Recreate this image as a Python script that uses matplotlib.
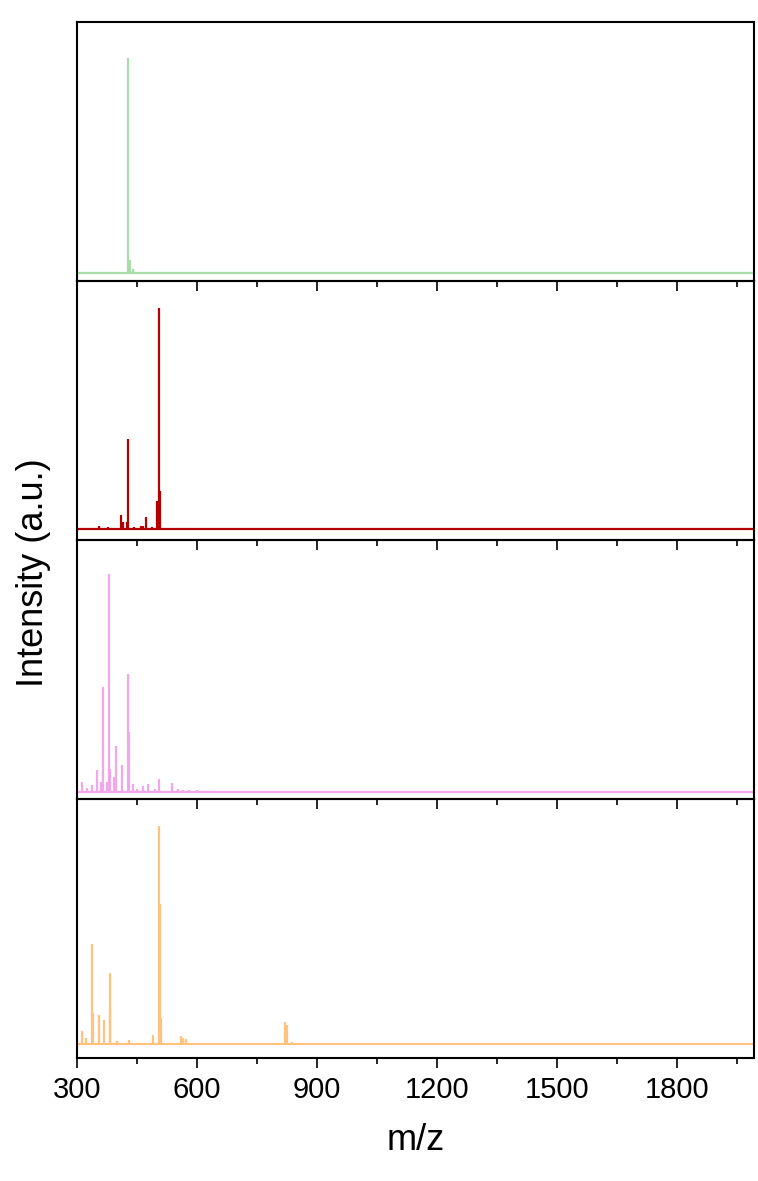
import matplotlib
matplotlib.use("Agg")
import matplotlib.pyplot as plt
import numpy as np

plt.rcParams['font.family'] = ['Liberation Sans', 'DejaVu Sans']

# m/z scan range shared by all spectra
mz_range = [300, 1992]

# Peak lists (m/z, relative intensity) for each spectrum, top to bottom
mz_1 = [402, 428, 432, 439]
int_1 = [0.6, 100, 6, 2]

mz_2 = [356, 378, 409, 416, 424, 428, 442, 460, 466, 473, 488, 500, 505, 508]
int_2 = [1.5, 1.0, 6.5, 3, 3, 40.5, 1.0, 1.5, 1.5, 5.6, 1.0, 12.5, 100, 17]

mz_3 = [312, 324, 337, 351, 359, 364, 375, 380, 382, 392, 397, 412, 427, 430,
        441, 451, 466, 478, 495, 506, 537, 552, 565, 580, 600, 640, 700]
int_3 = [4.6, 2, 3.4, 10, 4.6, 48, 4.6, 100, 10.7, 7, 21, 12.6, 54, 27.6,
         3.8, 1.5, 2.6, 3.6, 1.5, 6, 4, 1.2, 1.0, 1.0, 0.8, 0.6, 0.5]

mz_4 = [312, 322, 337.5, 340, 354, 367, 382, 383.5, 401, 430, 491, 505, 508,
        510, 560, 566, 572, 821, 824, 838]
int_4 = [5.7, 2.9, 46, 14, 13, 11, 32.5, 17, 1.5, 1.8, 4, 100, 64,
         12, 3.4, 2.6, 2.3, 9.8, 8.7, 1.0]

spectra = [(mz_1, int_1), (mz_2, int_2), (mz_3, int_3), (mz_4, int_4)]
colors = ['#a8dca8', '#b30000', '#f4a6ea', '#ffc27f']
y_limits = [(-3.7, 116.8), (-5.0, 112.0), (-3.2, 115.6), (-6.5, 112.3)]

W, H = 758, 1181
fig = plt.figure(figsize=(W / 100, H / 100), dpi=100)

# stacked panels, pixel layout
left, right = 77, 754
top, bottom = 22, 1058
panel_h = (bottom - top) / 4

for i, ((mz, inten), c, yl) in enumerate(zip(spectra, colors, y_limits)):
    y0 = top + i * panel_h
    ax = fig.add_axes([left / W, 1 - (y0 + panel_h) / H,
                       (right - left) / W, panel_h / H])
    ax.set_facecolor('none')  # let ticks of the panel above show through
    ax.plot(mz_range, [0, 0], color=c, lw=1.6)
    ax.vlines(mz, 0, inten, color=c, lw=1.6)
    ax.set_xlim(mz_range)
    ax.set_ylim(yl)
    ax.set_yticks([])
    ax.set_xticks(np.arange(300, 1801, 300))
    ax.set_xticks(np.arange(450, 1991, 300), minor=True)
    for s in ax.spines.values():
        s.set_linewidth(1.5)
    ax.tick_params(axis='x', which='major', length=7.2, width=1.2, direction='out')
    ax.tick_params(axis='x', which='minor', length=4.2, width=1.2, direction='out')
    if i < 3:
        ax.tick_params(axis='x', which='both', labelbottom=False)
    else:
        ax.tick_params(axis='x', labelsize=21, pad=6)

fig.text(34 / W, 1 - 573 / H, 'Intensity (a.u.)', rotation=90,
         ha='center', va='center', fontsize=26)
fig.text(416 / W, 1 - 1140 / H, 'm/z', ha='center', va='center', fontsize=26)

fig.savefig('out.png', dpi=100)
